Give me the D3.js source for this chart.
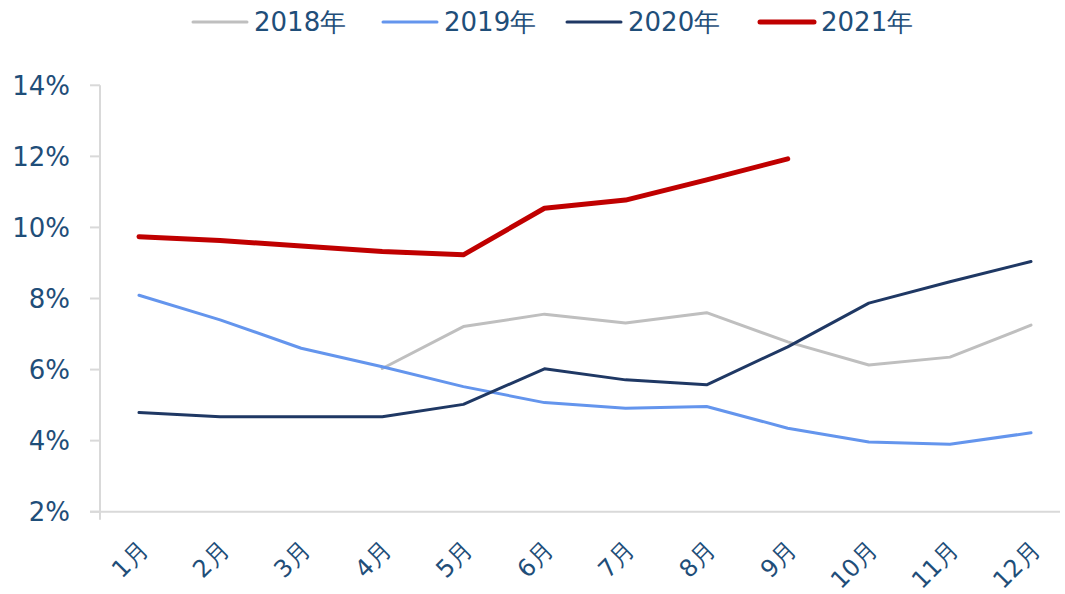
<!DOCTYPE html>
<html>
<head>
<meta charset="utf-8">
<script src="https://cdn.jsdelivr.net/npm/d3@7"></script>
<style>
  body { margin: 0; background: #fff; }
  text { font-family: "DejaVu Sans", Verdana, sans-serif; fill: #1f4e79; }
</style>
</head>
<body>
<div id="chart"></div>
<script>
const months = ['1月', '2月', '3月', '4月', '5月', '6月', '7月', '8月', '9月', '10月', '11月', '12月'];
const yTicks = [2, 4, 6, 8, 10, 12, 14];

const s2018 = [null, null, null, 6.03, 7.21, 7.56, 7.31, 7.60, 6.78, 6.13, 6.35, 7.25];
const s2019 = [8.09, 7.40, 6.60, 6.08, 5.52, 5.07, 4.91, 4.96, 4.35, 3.96, 3.90, 4.22];
const s2020 = [4.79, 4.67, 4.67, 4.67, 5.02, 6.02, 5.71, 5.57, 6.64, 7.87, 8.47, 9.04];
const s2021 = [9.74, 9.63, 9.48, 9.32, 9.23, 10.54, 10.77, 11.34, 11.93];

const series = [
  { name: '2018年', values: s2018, color: '#bfbfbf', width: 3 },
  { name: '2019年', values: s2019, color: '#6495ed', width: 3 },
  { name: '2020年', values: s2020, color: '#1f3864', width: 3 },
  { name: '2021年', values: s2021, color: '#c00000', width: 5 }
];

const width = 1065;
const height = 594;
const svg = d3.select('#chart').append('svg')
  .attr('width', width)
  .attr('height', height);

const x = d3.scalePoint().domain(months).range([139, 1031]);
const y = d3.scaleLinear().domain([2, 14]).range([511.7, 85.3]);

// y axis
svg.append('line')
  .attr('x1', 100).attr('x2', 100)
  .attr('y1', y(14)).attr('y2', y(2) + 8)
  .attr('stroke', '#d9d9d9').attr('stroke-width', 2);
svg.append('g').selectAll('line').data(yTicks).enter().append('line')
  .attr('x1', 90).attr('x2', 100)
  .attr('y1', (d) => y(d)).attr('y2', (d) => y(d))
  .attr('stroke', '#d9d9d9').attr('stroke-width', 2);
svg.append('g').selectAll('text').data(yTicks).enter().append('text')
  .attr('x', 70).attr('y', (d) => y(d))
  .attr('dy', '0.36em')
  .attr('text-anchor', 'end')
  .attr('font-size', 26)
  .text((d) => d + '%');

// x axis
svg.append('line')
  .attr('x1', 90).attr('x2', 1060)
  .attr('y1', y(2)).attr('y2', y(2))
  .attr('stroke', '#d9d9d9').attr('stroke-width', 2);
svg.append('g').selectAll('text').data(months).enter().append('text')
  .attr('transform', (d) => 'translate(' + (x(d) + 2) + ',' + 543 + ') rotate(-45)')
  .attr('dy', '0.5em')
  .attr('text-anchor', 'end')
  .attr('font-size', 24)
  .text((d) => d);

// lines
const line = d3.line()
  .defined((d) => d != null)
  .x((d, i) => x(months[i]))
  .y((d) => y(d));

svg.append('g').selectAll('path').data(series).enter().append('path')
  .attr('d', (s) => line(s.values))
  .attr('fill', 'none')
  .attr('stroke', (s) => s.color)
  .attr('stroke-width', (s) => s.width)
  .attr('stroke-linecap', 'round')
  .attr('stroke-linejoin', 'round');

// legend
const legendX = [193, 383, 567, 760];
const legend = svg.append('g').selectAll('g').data(series).enter().append('g')
  .attr('transform', (s, i) => 'translate(' + legendX[i] + ',22)');
legend.append('line')
  .attr('x1', 0).attr('x2', 54)
  .attr('stroke', (s) => s.color)
  .attr('stroke-width', (s) => s.width)
  .attr('stroke-linecap', 'round');
legend.append('text')
  .attr('x', 61)
  .attr('dy', '0.36em')
  .attr('font-size', 26)
  .text((s) => s.name);
</script>
</body>
</html>
